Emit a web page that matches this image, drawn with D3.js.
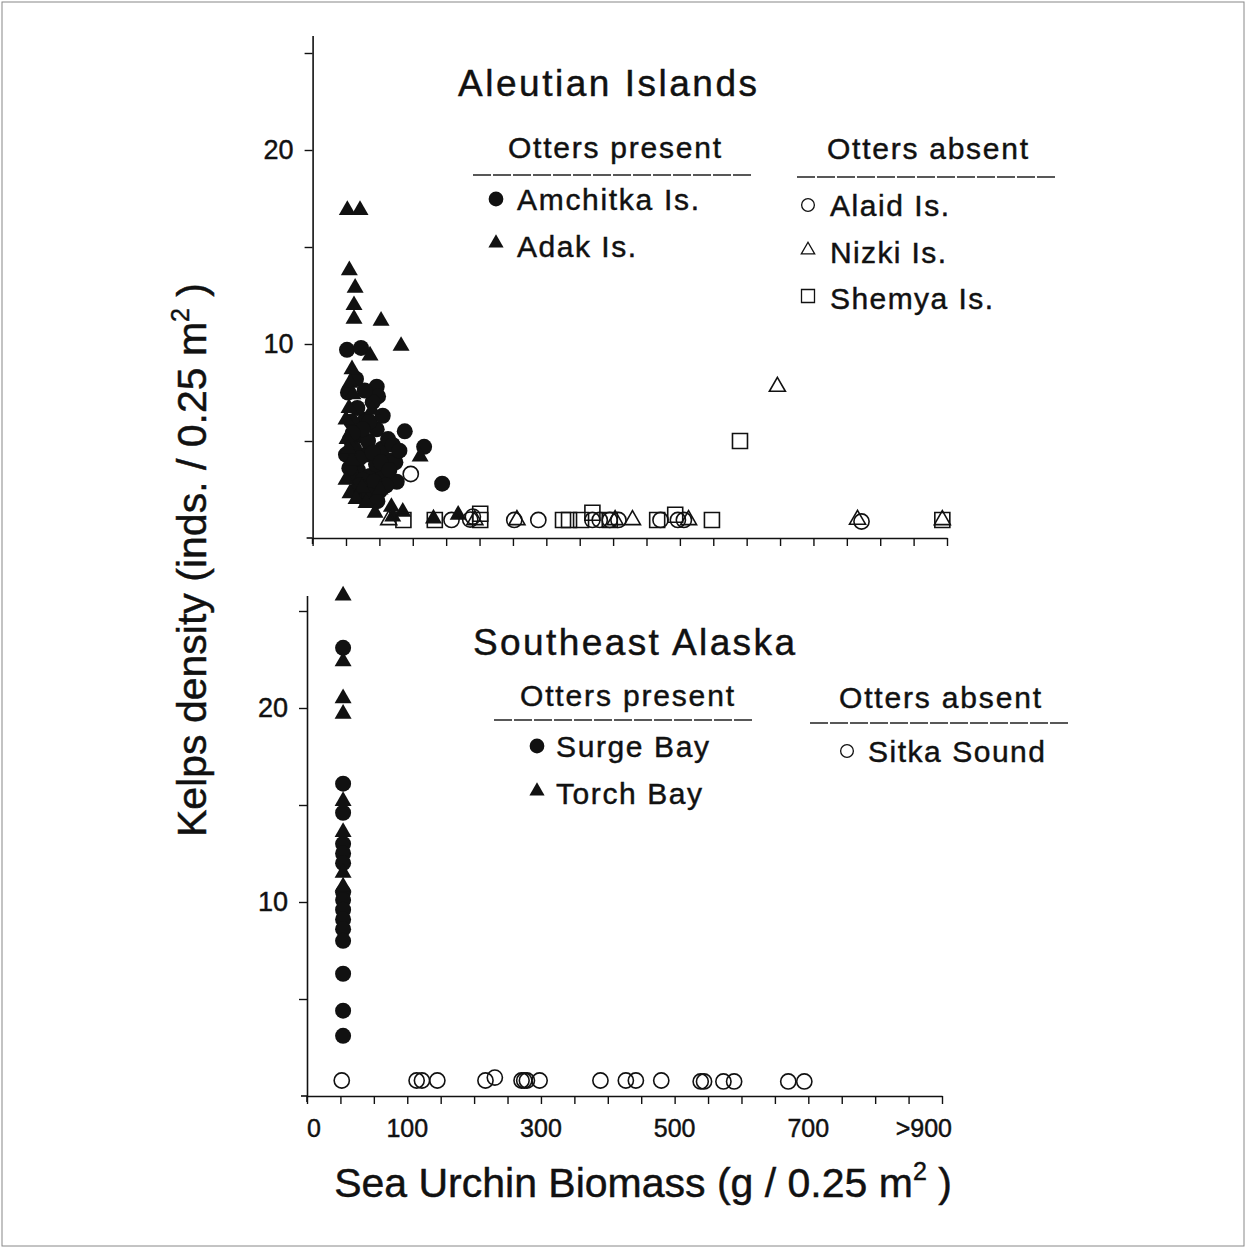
<!DOCTYPE html>
<html><head><meta charset="utf-8">
<script src="https://cdn.jsdelivr.net/npm/d3@7"></script>
<style>
body{margin:0;background:#fff}
svg{display:block}
text{font-family:"Liberation Sans",Arial,Helvetica,sans-serif;fill:#111;stroke:#111;stroke-width:0.45px}
</style>
</head><body>
<svg id="c" width="1247" height="1249"></svg>
<script>
// ---------------- DATA ----------------
// x: sea urchin biomass (g / 0.25 m2), y: kelp density (inds / 0.25 m2)
const xTickValues = d3.range(-50, 901, 50);
const xLabelValues = [-50, 100, 300, 500, 700, 900];
const xLabelTexts = ["0", "100", "300", "500", "700", ">900"];
const yTickValues = [5, 10, 15, 20, 25];
const yLabelValues = [10, 20];

// Aleutian Islands – otters present
const amchitka = [
  [1.5,9.7],[22.5,9.8],[46,7.8],[48,7.3],[88,5.5],[117,4.7],[76,2.9],[144,2.8],
  [46,5.6],[64,4.0],[39,2.5],[6,5.1],[18,3.5],[30,4.3],[54,4.6],[74,3.9],
  [9,3.2],[0,4.3],[29,6.1],[21,5.3],[36,3.2],[56,3.2],[14,2.4],[29,2.0],
  [45,3.8],[63,5.1],[17,6.7],[40,7.0],[12,4.6],[25,3.0],[50,2.4],[8,6.0],
  [33,5.0],[60,2.7],[20,4.1],[40,4.4],[3,7.5],[15,8.2],[28,7.6],[35,6.0],
  [55,6.3],[70,4.8],[80,4.5],[42,2.9],[25,5.6],[10,5.4],[52,3.9],[65,3.5],
  [5,3.6],[20,2.7],[35,2.2],[47,1.9]
];
const adak = [
  [2,16.9],[21,16.9],[5,13.8],[13.7,12.9],[12,12.0],[12,11.3],[52.5,11.2],[82.5,9.9],
  [36,9.4],[9,8.7],[6,8.0],[10.5,7.4],[39,6.6],[4.5,6.7],[0,6.1],[1.5,5.1],
  [9,4.0],[0,3.0],[6,2.3],[24,2.6],[51,2.5],[111,4.2],[43.5,1.3],[68,1.6],
  [85,1.35],[70,1.1],[131,1.0],[168,1.2],[3,4.6],[15,2.0],[30,1.8]
];
// Aleutian Islands – otters absent
const alaid = [
  [97,3.3],[158,0.93],[186,0.95],[190,1.1],[252,0.93],[288,0.93],[369,0.93],[380,0.93],
  [395,0.93],[408,0.93],[471,0.93],[497,0.93],[506,0.93],[772,0.85]
];
const nizki = [
  [64,0.93],[193,0.93],[256,0.93],[403,0.93],[429,0.93],[513,0.93],[766,0.95],[893,0.93],[646,7.8]
];
const shemya = [
  [86,0.93],[133,0.93],[201,0.93],[201,1.25],[325,0.93],[334,0.93],[352,0.93],[369,1.3],
  [395,0.93],[466,0.93],[493,1.2],[548,0.93],[893,0.93],[590,5.0]
];
// Southeast Alaska
const surge = [
  [4,23.1],[4,16.1],[4,14.6],[4,13.0],[4,12.5],[4,12.0],[4,10.5],[4,10.1],
  [4,9.6],[4,9.1],[4,8.6],[4,8.0],[4,6.3],[4,4.4],[4,3.1]
];
const torch = [
  [4,25.8],[4,22.4],[4,20.5],[4,19.7],[4,15.2],[4,13.6],[4,11.5],[4,10.8]
];
const sitka = [
  [2,0.8],[114,0.8],[122,0.8],[145,0.8],[217,0.8],[231,0.95],[271,0.8],[275,0.8],
  [279,0.8],[298,0.8],[389,0.8],[427,0.8],[442,0.8],[480,0.8],[539,0.75],[544,0.75],
  [573,0.75],[589,0.75],[670,0.75],[694,0.75]
];

// ---------------- DRAW ----------------
const svg = d3.select("#c");
svg.append("rect").attr("x",2).attr("y",2).attr("width",1242).attr("height",1244)
  .attr("fill","none").attr("stroke","#888").attr("stroke-width",1);

const INK = "#111";
const sym = (type, size) => d3.symbol().type(type).size(size)();
const shapes = {
  fcirc: {type:d3.symbolCircle, size:Math.PI*8*8, fill:INK, stroke:"none"},
  ftri:  {type:d3.symbolTriangle, size:0.433*17*17, fill:INK, stroke:"none"},
  ocirc: {type:d3.symbolCircle, size:Math.PI*7.6*7.6, fill:"none", stroke:INK},
  otri:  {type:d3.symbolTriangle, size:0.433*16*16, fill:"none", stroke:INK},
  osq:   {type:d3.symbolSquare, size:15*15, fill:"none", stroke:INK}
};

function panel(cfg) {
  const x = d3.scaleLinear().domain([-50, 900]).range([cfg.x0, cfg.x1]);
  const y = d3.scaleLinear().domain([0, cfg.ymax]).range([cfg.y0, cfg.y0 - cfg.ymax*19.4]);
  const g = svg.append("g");

  const xa = g.append("g").attr("transform",`translate(0,${cfg.y0})`)
    .call(d3.axisBottom(x).tickValues(xTickValues).tickSize(8).tickSizeOuter(0).tickFormat(""));
  const ya = g.append("g").attr("transform",`translate(${cfg.x0},0)`)
    .call(d3.axisLeft(y).tickValues(yTickValues).tickSize(8).tickSizeOuter(0).tickPadding(11)
      .tickFormat(d => yLabelValues.includes(d) ? d : ""));
  [xa, ya].forEach(a => {
    a.select(".domain").attr("stroke",INK).attr("stroke-width",1.6);
    a.selectAll(".tick line").attr("stroke",INK).attr("stroke-width",1.4);
  });
  ya.selectAll(".tick text").attr("font-size",27).attr("fill",INK)
    .attr("font-family",'"Liberation Sans",Arial,sans-serif');
  g.append("line").attr("x1",cfg.x0).attr("x2",cfg.x0).attr("y1",cfg.y0).attr("y2",cfg.y0+6)
    .attr("stroke",INK).attr("stroke-width",1.6);
  g.append("line").attr("x1",cfg.x0-6).attr("x2",cfg.x0).attr("y1",cfg.y0).attr("y2",cfg.y0)
    .attr("stroke",INK).attr("stroke-width",1.6);

  cfg.series.forEach(s => {
    const sh = shapes[s.shape];
    g.append("g").selectAll("path").data(s.data).join("path")
      .attr("d", sym(sh.type, sh.size))
      .attr("transform", d => `translate(${x(d[0])},${y(d[1])})`)
      .attr("fill", sh.fill).attr("stroke", sh.stroke).attr("stroke-width", 1.6);
  });
  return {x, y, g};
}

const topPanel = panel({x0:312.6, x1:947, y0:538, ymax:25.9, series:[
  {data:amchitka, shape:"fcirc"}, {data:adak, shape:"ftri"},
  {data:alaid, shape:"ocirc"}, {data:nizki, shape:"otri"}, {data:shemya, shape:"osq"}
]});
const botPanel = panel({x0:307, x1:942, y0:1096, ymax:25.8, series:[
  {data:surge, shape:"fcirc"}, {data:torch, shape:"ftri"}, {data:sitka, shape:"ocirc"}
]});

// bottom x tick labels
botPanel.g.append("g").selectAll("text").data(xLabelValues).join("text")
  .attr("x", (d,i) => botPanel.x(d) + (i===xLabelValues.length-1 ? 10 : 0))
  .attr("y", 1137)
  .attr("text-anchor", (d,i) => i===0 ? "start" : i===xLabelValues.length-1 ? "end" : "middle")
  .attr("font-size", 25)
  .text((d,i) => xLabelTexts[i]);

function txt(t, x, y, size, len, anchor="start") {
  const e = svg.append("text").attr("x",x).attr("y",y).attr("font-size",size)
    .attr("text-anchor",anchor).text(t);
  if (len) e.attr("textLength",len).attr("lengthAdjust","spacing");
  return e;
}
function rule(x1,x2,y) {
  svg.append("line").attr("x1",x1).attr("x2",x2).attr("y1",y).attr("y2",y)
    .attr("stroke","#222").attr("stroke-width",1.3).attr("stroke-dasharray","18,2");
}
function marker(shape, cx, cy, scale) {
  const sh = shapes[shape];
  svg.append("path").attr("d", sym(sh.type, sh.size*scale))
    .attr("transform",`translate(${cx},${cy})`)
    .attr("fill",sh.fill).attr("stroke",sh.stroke).attr("stroke-width",1.3);
}

// Aleutian legend
txt("Aleutian Islands", 458, 96, 37, 299);
txt("Otters present", 508, 158, 30, 213);
txt("Otters absent", 827, 159, 30, 201);
rule(473, 752, 175); rule(797, 1055, 177);
marker("fcirc", 496, 199, 0.85); txt("Amchitka Is.", 517, 210, 30, 182);
marker("ftri", 496, 243, 0.8);  txt("Adak Is.", 517, 257, 30, 119);
marker("ocirc", 808, 205, 0.7); txt("Alaid Is.", 830, 216, 30, 119);
marker("otri", 808, 250, 0.7);  txt("Nizki Is.", 830, 263, 30, 116);
marker("osq", 808, 296, 0.75);   txt("Shemya Is.", 830, 309, 30, 163);

// SE Alaska legend
txt("Southeast Alaska", 473, 655, 37, 322);
txt("Otters present", 520, 706, 30, 214);
txt("Otters absent", 839, 708, 30, 202);
rule(494, 752, 720); rule(810, 1068, 723);
marker("fcirc", 537, 746, 0.85); txt("Surge Bay", 556, 757, 30, 153);
marker("ftri", 537, 791, 0.8);  txt("Torch Bay", 556, 804, 30, 146);
marker("ocirc", 847, 751, 0.7); txt("Sitka Sound", 868, 762, 30, 177);

// axis titles
const yl = svg.append("text").attr("transform","translate(206,560) rotate(-90)")
  .attr("text-anchor","middle").attr("font-size",41);
yl.append("tspan").text("Kelps density (inds. / 0.25 m");
yl.append("tspan").attr("font-size",25).attr("dy",-17).text("2");
yl.append("tspan").attr("dy",17).text(" )");

const xl = svg.append("text").attr("x",643).attr("y",1197)
  .attr("text-anchor","middle").attr("font-size",41);
xl.append("tspan").text("Sea Urchin Biomass (g / 0.25 m");
xl.append("tspan").attr("font-size",25).attr("dy",-17).text("2");
xl.append("tspan").attr("dy",17).text(" )");
</script>
</body></html>
